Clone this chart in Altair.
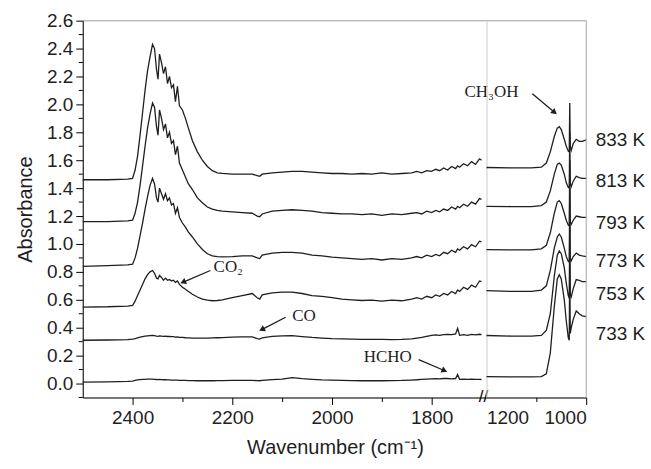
import altair as alt
import pandas as pd

temps = ["833 K", "813 K", "793 K", "773 K", "753 K", "733 K"]

# ---- left segment (2500 - 1700 cm-1) ----
wn_left = [
    2500, 2450, 2410, 2400, 2395, 2390, 2385, 2380, 2375, 2370,
    2365, 2360, 2356, 2352, 2349, 2346, 2342, 2338, 2334, 2330,
    2326, 2322, 2318, 2314, 2310, 2306, 2300, 2294, 2288, 2280,
    2270, 2260, 2250, 2240, 2230, 2220, 2200, 2180, 2160, 2150,
    2145, 2140, 2120, 2100, 2080, 2060, 2040, 2020, 2000, 1980,
    1960, 1940, 1920, 1900, 1880, 1860, 1840, 1830, 1820, 1810,
    1800, 1792, 1784, 1776, 1768, 1760, 1752, 1748, 1744, 1736,
    1728, 1720, 1712, 1704, 1700,
]
a833_left = [
    1.46, 1.46, 1.465, 1.47, 1.53, 1.63, 1.78, 1.94, 2.10, 2.24,
    2.34, 2.43, 2.40, 2.25, 2.18, 2.36, 2.30, 2.22, 2.27, 2.15,
    2.20, 2.12, 2.14, 2.02, 2.13, 1.99, 1.96, 1.90, 1.83, 1.74,
    1.66, 1.60, 1.555, 1.525, 1.51, 1.505, 1.50, 1.50, 1.50, 1.49,
    1.485, 1.50, 1.51, 1.515, 1.52, 1.52, 1.515, 1.51, 1.505, 1.505,
    1.50, 1.505, 1.50, 1.51, 1.50, 1.505, 1.51, 1.52, 1.51, 1.525,
    1.52, 1.535, 1.525, 1.545, 1.53, 1.555, 1.54, 1.56, 1.55, 1.575,
    1.56, 1.59, 1.57, 1.61, 1.60,
]
a813_left = [
    1.16, 1.16, 1.165, 1.17, 1.22, 1.30, 1.42, 1.56, 1.70, 1.83,
    1.93, 2.01, 1.98, 1.84, 1.78, 1.96, 1.90, 1.82, 1.86, 1.76,
    1.80, 1.72, 1.74, 1.64, 1.70, 1.58, 1.53, 1.48, 1.43, 1.39,
    1.33, 1.295, 1.265, 1.25, 1.24, 1.235, 1.23, 1.225, 1.22, 1.20,
    1.195, 1.215, 1.235, 1.24, 1.245, 1.24, 1.235, 1.225, 1.22, 1.215,
    1.215, 1.21, 1.215, 1.205, 1.215, 1.21, 1.22, 1.225, 1.215, 1.235,
    1.225, 1.24, 1.23, 1.25, 1.24, 1.265, 1.25, 1.27, 1.26, 1.285,
    1.27, 1.30, 1.285, 1.325, 1.32,
]
a793_left = [
    0.84, 0.845, 0.85, 0.855, 0.90, 0.97, 1.06, 1.15, 1.25, 1.34,
    1.42, 1.47, 1.43, 1.33, 1.30, 1.40, 1.36, 1.32, 1.36, 1.31,
    1.33, 1.28, 1.29, 1.22, 1.26, 1.19, 1.15, 1.12, 1.085, 1.05,
    1.00, 0.96, 0.93, 0.915, 0.91, 0.908, 0.91, 0.915, 0.915, 0.90,
    0.895, 0.92, 0.935, 0.94, 0.94, 0.935, 0.92, 0.915, 0.905, 0.90,
    0.895, 0.89, 0.895, 0.885, 0.895, 0.89, 0.90, 0.91, 0.90, 0.92,
    0.91, 0.925, 0.915, 0.94, 0.93, 0.955, 0.94, 0.965, 0.955, 0.98,
    0.965, 0.995, 0.98, 1.02, 1.015,
]
a773_left = [
    0.548, 0.55, 0.555, 0.56, 0.59, 0.63, 0.67, 0.71, 0.75, 0.78,
    0.80, 0.81, 0.79, 0.755, 0.75, 0.775, 0.76, 0.74, 0.755, 0.74,
    0.745, 0.735, 0.74, 0.725, 0.735, 0.71, 0.69, 0.675, 0.66, 0.64,
    0.62, 0.605, 0.597, 0.593, 0.595, 0.60, 0.615, 0.63, 0.645, 0.615,
    0.605, 0.635, 0.65, 0.655, 0.655, 0.645, 0.63, 0.625, 0.615, 0.605,
    0.60, 0.595, 0.598, 0.59, 0.598, 0.593, 0.605, 0.615, 0.605, 0.625,
    0.615, 0.635, 0.625, 0.645, 0.635, 0.66, 0.645, 0.67, 0.66, 0.69,
    0.675, 0.705, 0.69, 0.735, 0.73,
]
a753_left = [
    0.31, 0.312, 0.315, 0.318, 0.322, 0.327, 0.332, 0.336, 0.339, 0.341,
    0.343, 0.345, 0.343, 0.34, 0.338, 0.342, 0.34, 0.338, 0.34, 0.337,
    0.338, 0.336, 0.336, 0.333, 0.334, 0.331, 0.33, 0.328, 0.327, 0.326,
    0.325, 0.325, 0.326, 0.327, 0.328, 0.329, 0.332, 0.335, 0.334, 0.322,
    0.318, 0.328, 0.338, 0.342, 0.343, 0.336, 0.33, 0.326, 0.322, 0.32,
    0.318, 0.317, 0.316, 0.316, 0.315, 0.316, 0.32, 0.325, 0.33, 0.338,
    0.345, 0.348, 0.345, 0.35, 0.352, 0.35, 0.355, 0.395, 0.345, 0.35,
    0.345, 0.352, 0.348, 0.353, 0.35,
]
a733_left = [
    0.01, 0.012, 0.015, 0.018, 0.022, 0.026, 0.028, 0.03, 0.03, 0.031,
    0.031, 0.032, 0.03, 0.029, 0.028, 0.029, 0.028, 0.027, 0.027, 0.026,
    0.026, 0.025, 0.025, 0.024, 0.024, 0.023, 0.022, 0.022, 0.021, 0.021,
    0.02, 0.02, 0.02, 0.02, 0.021, 0.021, 0.022, 0.022, 0.022, 0.021,
    0.02, 0.022, 0.028, 0.032, 0.042, 0.035, 0.03, 0.026, 0.024, 0.022,
    0.021, 0.02, 0.02, 0.02, 0.021, 0.022, 0.025, 0.027, 0.03, 0.032,
    0.034, 0.035, 0.034, 0.036, 0.036, 0.034, 0.036, 0.064, 0.03, 0.032,
    0.03, 0.031, 0.03, 0.03, 0.029,
]

# ---- right segment (1200 - 1000 cm-1) ----
wn_right = [
    1200, 1150, 1110, 1090, 1080, 1072, 1064, 1058, 1054, 1050,
    1044, 1040, 1036, 1034, 1033, 1032, 1030, 1026, 1020, 1014,
    1008, 1000,
]
a833_right = [
    1.548, 1.545, 1.545, 1.55, 1.58, 1.66, 1.77, 1.83, 1.84, 1.82,
    1.75, 1.70, 1.665, 1.66, 2.01, 1.70, 1.67, 1.72, 1.75, 1.735,
    1.735, 1.745,
]
a813_right = [
    1.27, 1.268, 1.268, 1.275, 1.30, 1.38, 1.50, 1.57, 1.58, 1.565,
    1.50, 1.44, 1.405, 1.40, 1.80, 1.44, 1.41, 1.45, 1.485, 1.475,
    1.47, 1.47,
]
a793_right = [
    0.96, 0.958, 0.958, 0.965, 0.99, 1.08, 1.22, 1.30, 1.31, 1.29,
    1.22, 1.17, 1.135, 1.13, 1.60, 1.16, 1.14, 1.17, 1.20, 1.195,
    1.19, 1.19,
]
a773_right = [
    0.665, 0.66, 0.66, 0.67, 0.70, 0.81, 0.97, 1.05, 1.07, 1.05,
    0.97, 0.91, 0.875, 0.87, 1.40, 0.90, 0.88, 0.91, 0.935, 0.92,
    0.915, 0.91,
]
a753_right = [
    0.344, 0.34, 0.34, 0.345, 0.38, 0.50, 0.77, 0.92, 0.95, 0.93,
    0.83, 0.72, 0.63, 0.61, 1.15, 0.64, 0.62, 0.68, 0.745, 0.74,
    0.73, 0.73,
]
a733_right = [
    0.05, 0.048, 0.048, 0.05, 0.07, 0.22, 0.55, 0.75, 0.78, 0.75,
    0.60, 0.45, 0.33, 0.31, 0.90, 0.36, 0.40, 0.46, 0.52, 0.50,
    0.485, 0.48,
]

# axis ticks
y_major = [0.0, 0.2, 0.4, 0.6, 0.8, 1.0, 1.2, 1.4, 1.6, 1.8, 2.0, 2.2, 2.4, 2.6]
y_minor = [-0.1, 0.1, 0.3, 0.5, 0.7, 0.9, 1.1, 1.3, 1.5, 1.7, 1.9, 2.1, 2.3, 2.5]

# temperature labels (right of the plot)
label_wn = [981, 981, 981, 981, 981, 981]
label_abs = [1.745, 1.45, 1.15, 0.876, 0.64, 0.355]

# annotations in the left segment
ann_text = ["CO\u2082", "CO", "HCHO"]
ann_wn = [2208, 2056, 1888]
ann_abs = [0.833, 0.487, 0.19]
arrow_wn1 = [2244, 2093, 1826]
arrow_abs1 = [0.81, 0.475, 0.171]
arrow_wn2 = [2297, 2139, 1776]
arrow_abs2 = [0.729, 0.39, 0.095]
arrow_angle = [246, 243, 113]

# methanol label (left panel's scale, it sits over the break)
ch3oh_text = ["CH\u2083OH"]
ch3oh_wn = [1680]
ch3oh_abs = [2.09]
# methanol arrow (right panel's scale)
ch3oh_arrow_wn1 = [1108]
ch3oh_arrow_abs1 = [2.077]
ch3oh_arrow_wn2 = [1065]
ch3oh_arrow_abs2 = [1.947]
ch3oh_angle = [130]

# frame (top edge over both panels, right edge of the right panel)
lframe_wn = [2500, 1690]
lframe_abs = [2.6, 2.6]
rframe_wn = [1200, 1000, 1000]
rframe_abs = [2.6, 2.6, -0.1]

left_vals = [a833_left, a813_left, a793_left, a773_left, a753_left, a733_left]
right_vals = [a833_right, a813_right, a793_right, a773_right, a753_right, a733_right]


def build(grid, series):
    rows = []
    for t, vals in zip(temps, series):
        if len(vals) != len(grid):
            raise ValueError(f"length mismatch for {t}: {len(vals)} vs {len(grid)}")
        for w, v in zip(grid, vals):
            rows.append({"wn": w, "a": v, "T": t})
    return pd.DataFrame(rows)


df_left = build(wn_left, left_vals)
df_right = build(wn_right, right_vals)
df_labels = pd.DataFrame({"wn": label_wn, "a": label_abs, "T": temps})
df_ann = pd.DataFrame({"wn": ann_wn + ch3oh_wn, "a": ann_abs + ch3oh_abs,
                       "txt": ann_text + ch3oh_text})
df_arr = pd.DataFrame({"w1": arrow_wn1, "a1": arrow_abs1, "w2": arrow_wn2,
                       "a2": arrow_abs2, "ang": arrow_angle})
df_charr = pd.DataFrame({"w1": ch3oh_arrow_wn1, "a1": ch3oh_arrow_abs1,
                         "w2": ch3oh_arrow_wn2, "a2": ch3oh_arrow_abs2,
                         "ang": ch3oh_angle})
df_break = pd.DataFrame({"wn": [1696], "a": [-0.1], "txt": ["//"]})
df_lframe = pd.DataFrame({"wn": lframe_wn, "a": lframe_abs, "o": [0, 1]})
df_rframe = pd.DataFrame({"wn": rframe_wn, "a": rframe_abs, "o": [0, 1, 2]})
df_minor = pd.DataFrame({"a": y_minor})

H = 378
WL = 405
WR = 100
INK = "#1e1e1e"
FRAME = "#b0b0b0"
SANS = "Liberation Sans"
SERIF = "Liberation Serif"

y_scale = alt.Scale(domain=[-0.1, 2.6], nice=False, zero=False)
xl_scale = alt.Scale(domain=[2500, 1690], nice=False, zero=False)
xr_scale = alt.Scale(domain=[1200, 1000], nice=False, zero=False)

y_axis = alt.Axis(
    values=y_major,
    format=".1f",
    labelOverlap=False,
    tickSize=7,
    title="Absorbance",
    titleFontSize=20,
    titleFontWeight="normal",
    titleFont=SANS,
    titleColor=INK,
    titlePadding=11,
    labelFontSize=19,
    labelFont=SANS,
    labelColor=INK,
    labelPadding=3,
    domainColor="#000",
    tickColor="#000",
    grid=False,
)

xl_axis = alt.Axis(
    values=[2400, 2300, 2200, 2100, 2000, 1900, 1800],
    format="d",
    labelExpr="datum.value % 200 == 0 ? datum.label : ''",
    labelOverlap=False,
    tickSize={"condition": {"test": "datum.value % 200 == 0", "value": 7}, "value": 4},
    title="Wavenumber (cm\u207b\u00b9)",
    titleX=253,
    titleAlign="center",
    titleFontSize=20,
    titleFontWeight="normal",
    titleFont=SANS,
    titleColor=INK,
    titlePadding=10,
    labelFontSize=19,
    labelFont=SANS,
    labelColor=INK,
    labelPadding=4,
    domainColor="#000",
    tickColor="#000",
    grid=False,
)

xr_axis = alt.Axis(
    values=[1200, 1100, 1000],
    format="d",
    labelExpr="datum.value == 1100 ? '' : datum.label",
    labelOverlap=False,
    labelBound=False,
    tickSize={"condition": {"test": "datum.value == 1100", "value": 4}, "value": 7},
    tickOpacity={"condition": {"test": "datum.value == 1200", "value": 0}, "value": 1},
    title=None,
    labelFontSize=19,
    labelFont=SANS,
    labelColor=INK,
    labelPadding=4,
    domainColor="#000",
    tickColor="#000",
    grid=False,
)


# every layer of a panel carries the identical axis definition, so that
# Vega-Lite merges them into a single axis
def xl(field):
    return alt.X(field, scale=xl_scale, axis=xl_axis)


def yl(field):
    return alt.Y(field, scale=y_scale, axis=y_axis)


def xr(field):
    return alt.X(field, scale=xr_scale, axis=xr_axis)


def yr(field):
    return alt.Y(field, scale=y_scale, axis=None)


# ---------- left panel ----------
lines_left = alt.Chart(df_left).mark_line(color=INK, strokeWidth=1.3).encode(
    x=xl("wn:Q"), y=yl("a:Q"), detail="T:N",
)
minor_y = alt.Chart(df_minor).mark_rule(color="#000", strokeWidth=1).encode(
    x=alt.value(-4), x2=alt.value(0), y=yl("a:Q")
)
top_left = alt.Chart(df_lframe).mark_line(color=FRAME, strokeWidth=1).encode(
    x=xl("wn:Q"), y=yl("a:Q"), order="o:Q"
)
ann_left = alt.Chart(df_ann).mark_text(
    font=SERIF, fontSize=17, color=INK, align="center", baseline="middle"
).encode(x=xl("wn:Q"), y=yl("a:Q"), text="txt:N")
arr_left = alt.Chart(df_arr).mark_rule(color=INK, strokeWidth=1.3).encode(
    x=xl("w1:Q"), x2="w2:Q", y=yl("a1:Q"), y2="a2:Q",
)
head_left = alt.Chart(df_arr).mark_point(
    shape="triangle", filled=True, color=INK, size=45, opacity=1
).encode(
    x=xl("w2:Q"), y=yl("a2:Q"), angle=alt.Angle("ang:Q", scale=None),
)
brk = alt.Chart(df_break).mark_text(
    font=SANS, fontSize=17, color="#000", align="center", baseline="middle"
).encode(x=xl("wn:Q"), y=yl("a:Q"), text="txt:N")

left = alt.layer(lines_left, minor_y, top_left, ann_left, arr_left, head_left, brk).properties(
    width=WL, height=H
)

# ---------- right panel ----------
lines_right = alt.Chart(df_right).mark_line(color=INK, strokeWidth=1.3).encode(
    x=xr("wn:Q"), y=yr("a:Q"), detail="T:N",
)
frame_right = alt.Chart(df_rframe).mark_line(color=FRAME, strokeWidth=1).encode(
    x=xr("wn:Q"), y=yr("a:Q"), order="o:Q"
)
labels = alt.Chart(df_labels).mark_text(
    font=SANS, fontSize=19, color=INK, align="left", baseline="middle"
).encode(x=xr("wn:Q"), y=yr("a:Q"), text="T:N")
ch_arr = alt.Chart(df_charr).mark_rule(color=INK, strokeWidth=1.3).encode(
    x=xr("w1:Q"), x2="w2:Q", y=yr("a1:Q"), y2="a2:Q",
)
ch_head = alt.Chart(df_charr).mark_point(
    shape="triangle", filled=True, color=INK, size=45, opacity=1
).encode(
    x=xr("w2:Q"), y=yr("a2:Q"), angle=alt.Angle("ang:Q", scale=None),
)

right = alt.layer(lines_right, frame_right, labels, ch_arr, ch_head).properties(
    width=WR, height=H
)

chart = (
    alt.hconcat(left, right, spacing=0, bounds="flush")
    .properties(padding={"left": 15, "top": 10, "right": 5, "bottom": 5})
    .configure_view(stroke="transparent", strokeWidth=0, strokeOpacity=0)
    .configure_axis(labelOverlap=False, grid=False)
    .configure(background="white")
)

chart.save("out.html", embed_options={"renderer": "svg", "actions": False})
